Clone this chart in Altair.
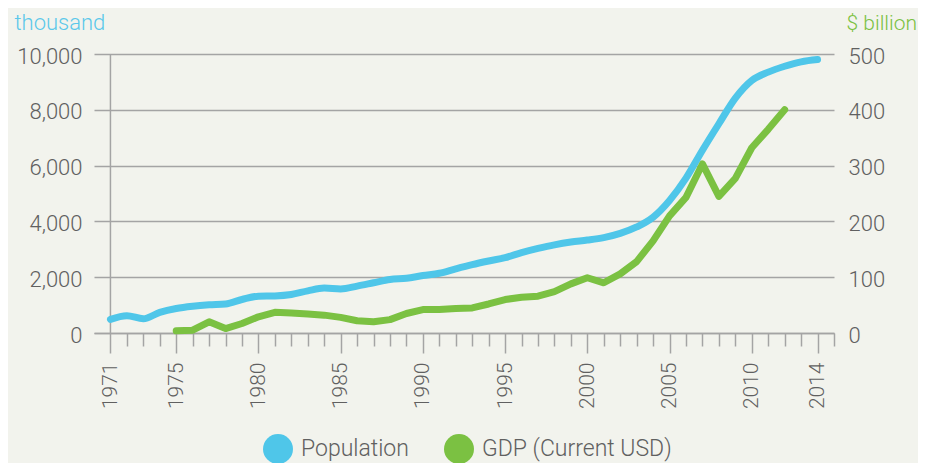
import altair as alt
import pandas as pd

# ---- data ----
pop_years = list(range(1971, 2015))
population = [490, 620, 510, 740, 880, 960, 1010, 1040, 1200, 1320,
              1330, 1380, 1510, 1610, 1580, 1680, 1800, 1920, 1960, 2060,
              2140, 2300, 2450, 2580, 2700, 2880, 3030, 3160, 3260, 3330,
              3420, 3570, 3800, 4150, 4750, 5550, 6550, 7500, 8420, 9050,
              9350, 9560, 9720, 9800]

gdp_years = list(range(1975, 2013))
gdp = [4, 5, 20, 8, 17, 29, 37, 36, 34, 32,
       28, 22, 20, 24, 35, 42, 42, 44, 45, 52,
       60, 64, 66, 74, 88, 99, 90, 106, 128, 165,
       210, 243, 303, 245, 277, 332, 365, 400]

series_names = ["Population", "GDP (Current USD)"]
series_colors = ["#4fc6e9", "#7bc142"]
label_years = [1971, 1975, 1980, 1985, 1990, 1995, 2000, 2005, 2010, 2014]
all_years = list(range(1971, 2016))

pop_df = pd.DataFrame({"year": pop_years, "value": population, "series": series_names[0]})
gdp_df = pd.DataFrame({"year": gdp_years, "value": gdp, "series": series_names[1]})
rule_df = pd.DataFrame({"year": [1971], "lo": [0], "hi": [10000]})

FONT = "Roboto"
GREY = "#a4a4a4"
TEXT = "#606060"

label_test = "indexof(" + str(label_years) + ", datum.value) >= 0"

x_enc = alt.X(
    "year:Q",
    scale=alt.Scale(domain=[1970, 2015], nice=False, zero=False),
    axis=alt.Axis(
        values=all_years,
        tickCount=200,
        format="d",
        labelExpr=label_test + " ? datum.label : ''",
        labelAngle=-90,
        labelFontSize=21,
        labelFont=FONT,
        labelFontWeight=300,
        labelColor=TEXT,
        labelPadding=9,
        tickSize={"condition": {"test": label_test, "value": 20}, "value": 13},
        tickColor=GREY,
        tickWidth=1.5,
        domainColor=GREY,
        domainWidth=1.5,
        grid=False,
        title=None,
        labelOverlap=False,
        labelFlush=False,
    ),
)

legend = alt.Legend(
    title=None,
    orient="none",
    direction="horizontal",
    legendX=169,
    legendY=380,
    symbolType="circle",
    symbolSize=900,
    symbolOpacity=1,
    symbolStrokeWidth=0,
    labelFontSize=23,
    labelFont=FONT,
    labelFontWeight=300,
    labelColor=TEXT,
    labelOffset=8,
    columnPadding=35,
    labelLimit=400,
)

color_scale = alt.Scale(domain=series_names, range=series_colors)
color_enc = alt.Color("series:N", scale=color_scale, legend=legend)

left_axis = alt.Axis(
    values=[0, 2000, 4000, 6000, 8000, 10000],
    format=",d",
    labelFontSize=22,
    labelFont=FONT,
    labelFontWeight=300,
    labelColor=TEXT,
    labelPadding=12,
    labelOffset=2,
    ticks=False,
    domain=False,
    grid=True,
    gridColor=GREY,
    gridWidth=1.5,
    title="thousand",
    titleAngle=0,
    titleAlign="left",
    titleBaseline="alphabetic",
    titleX=-80,
    titleY=-25,
    titleColor="#5bc8ea",
    titleFontSize=22,
    titleFont=FONT,
    titleFontWeight=300,
)

right_axis = alt.Axis(
    orient="right",
    values=[0, 100, 200, 300, 400, 500],
    format="d",
    labelFontSize=22,
    labelFont=FONT,
    labelFontWeight=300,
    labelColor=TEXT,
    labelPadding=14,
    labelOffset=2,
    ticks=False,
    domain=False,
    grid=False,
    title="$ billion",
    titleAngle=0,
    titleAlign="left",
    titleBaseline="alphabetic",
    titleX=12,
    titleY=-25,
    titleColor="#7bc142",
    titleFontSize=21,
    titleFont=FONT,
    titleFontWeight=300,
)

pop_scale = alt.Scale(domain=[0, 10000], nice=False)
gdp_scale = alt.Scale(domain=[0, 500], nice=False)

# invisible filled-circle layer that only carries the legend symbols
legend_layer = alt.Chart(pop_df).transform_filter("false").mark_circle(opacity=1).encode(
    x=x_enc,
    y=alt.Y("value:Q", scale=pop_scale, axis=left_axis),
    color=color_enc,
)

vrule = alt.Chart(rule_df).mark_rule(color=GREY, strokeWidth=1.5).encode(
    x=alt.X("year:Q"),
    y=alt.Y("lo:Q", scale=pop_scale, axis=left_axis),
    y2="hi:Q",
)

pop_line = alt.Chart(pop_df).mark_line(
    strokeWidth=7, strokeCap="round", strokeJoin="round", interpolate="monotone"
).encode(
    x=x_enc,
    y=alt.Y("value:Q", scale=pop_scale, axis=left_axis),
    color=color_enc,
)

gdp_line = alt.Chart(gdp_df).mark_line(
    strokeWidth=7, strokeCap="round", strokeJoin="round"
).encode(
    x=x_enc,
    y=alt.Y("value:Q", scale=gdp_scale, axis=right_axis),
    color=color_enc,
)

left_layer = alt.layer(legend_layer, vrule, pop_line)

chart = (
    alt.layer(left_layer, gdp_line)
    .resolve_scale(y="independent")
    .properties(
        width=740,
        height=279,
        padding={"left": 86, "top": 46, "right": 84, "bottom": 130},
        autosize=alt.AutoSizeParams(type="none"),
        background="#f2f3ed",
    )
    .configure_view(stroke=None)
)

chart.save("out.html", embed_options={"renderer": "svg", "actions": False})
